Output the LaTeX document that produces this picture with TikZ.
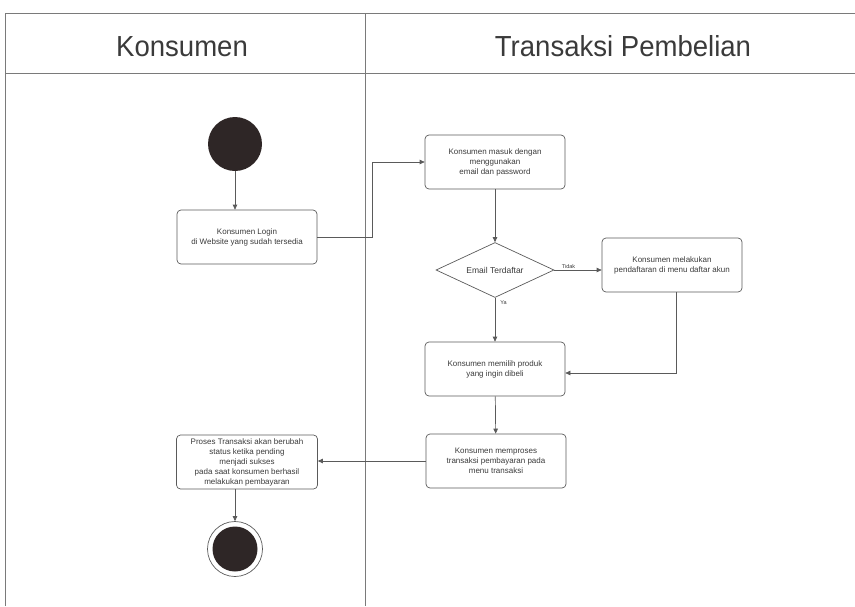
\documentclass[tikz,border=0pt]{standalone}
\usepackage{fontspec}
\setmainfont{Liberation Sans}
\usetikzlibrary{arrows.meta,shapes.geometric}
\definecolor{linec}{HTML}{5A5A5A}
\definecolor{lanec}{HTML}{7A7A7A}
\definecolor{txtc}{HTML}{3A3A3A}
\definecolor{dotc}{HTML}{2E2626}
\newcommand{\hdrtext}[1]{\scalebox{0.95}[1]{#1}}
\begin{document}
\begin{tikzpicture}[x=1pt,y=-1pt,
  lane/.style={draw=lanec, line width=0.8pt},
  header/.style={font=\fontsize{29}{32}\selectfont, text=txtc, inner sep=0pt},
  box/.style={draw=linec, rounded corners=4pt, minimum width=140pt, minimum height=54pt, align=center, font=\fontsize{8}{10}\selectfont, text=txtc, line width=0.7pt, inner sep=2pt},
  decision/.style={diamond, draw=linec, line width=0.7pt, aspect=2.15, minimum width=118pt, minimum height=55pt, inner sep=0pt, font=\fontsize{8.5}{10}\selectfont, text=txtc},
  startnode/.style={circle, fill=dotc, minimum size=54pt, inner sep=0pt},
  endring/.style={circle, draw=linec, line width=0.7pt, minimum size=55pt, inner sep=0pt},
  flow/.style={draw=linec, line width=0.7pt, -{Triangle[length=5pt,width=4.5pt]}},
  edgelabel/.style={font=\fontsize{5.5}{6}\selectfont, text=txtc, inner sep=1pt}
]
\useasboundingbox (0,0) rectangle (855,606);
% swimlanes
\draw[lane] (5,606) -- (5,13) -- (855,13);
\draw[lane] (5,73) -- (855,73);
\draw[lane] (365,13) -- (365,606);
\node[header] (h1) at (182,46.5) {\hdrtext{Konsumen}};
\node[header] (h2) at (623,46.5) {\hdrtext{Transaksi Pembelian}};
% nodes
\node[startnode] (start) at (235,144) {};
\node[box] (b1) at (247,237) {Konsumen Login\\di Website yang sudah tersedia};
\node[box] (b2) at (495,162) {Konsumen masuk dengan\\menggunakan\\email dan password};
\node[decision] (dia) at (495,270) {Email Terdaftar};
\node[box] (b3) at (672,265) {Konsumen melakukan\\pendaftaran di menu daftar akun};
\node[box] (b4) at (495,369) {Konsumen memilih produk\\yang ingin dibeli};
\node[box] (b5) at (496,461) {Konsumen memproses\\transaksi pembayaran pada\\menu transaksi};
\node[box, minimum width=141pt] (b6) at (247,462) {Proses Transaksi akan berubah\\status ketika pending\\menjadi sukses\\pada saat konsumen berhasil\\melakukan pembayaran};
\node[endring] (end) at (235,549) {};
\node[circle, fill=dotc, minimum size=45pt, inner sep=0pt] (endin) at (end) {};
% connectors
\draw[flow] (start) -- (start |- b1.north);
\draw[flow] (b1.east) -- ++(55,0) |- (b2.west);
\draw[flow] (b2) -- (dia);
\draw[flow] (dia.east) -- node[edgelabel, above, pos=0.3] (lt) {Tidak} (dia.east -| b3.west);
\draw[flow] (dia) -- node[edgelabel, right, pos=0.12, xshift=4pt] (ly) {Ya} (b4);
\draw[flow] ([xshift=4pt]b3.south) |- ([yshift=-4pt]b4.east);
\draw[flow] (b4) -- (b5);
\draw[flow] (b5.west) -- (b5.west -| b6.east);
\draw[flow] (end |- b6.south) -- (end.north);
\end{tikzpicture}
\end{document}
